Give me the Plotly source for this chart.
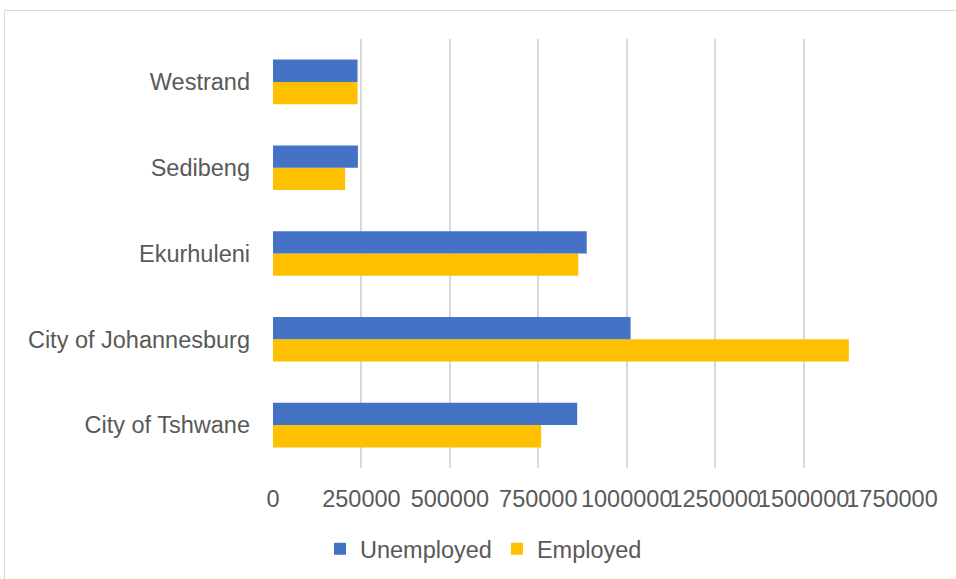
import plotly.graph_objects as go

categories = ["City of Tshwane", "City of Johannesburg", "Ekurhuleni", "Sedibeng", "Westrand"]
unemployed = [860000, 1011000, 887000, 240000, 239000]
employed = [758000, 1628000, 863000, 204000, 239000]
tick_vals = [0, 250000, 500000, 750000, 1000000, 1250000, 1500000, 1750000]
tick_text = ["0", "250000", "500000", "750000", "1000000", "1250000", "1500000", "1750000"]

W, H = 956, 579
L, R, T, B = 273, 64, 39, 111
pw = W - L - R
ph = H - T - B

fig = go.Figure()
fig.add_trace(go.Bar(
    y=categories, x=employed, name="Employed", orientation="h",
    marker=dict(color="#FFC000", line=dict(width=0)), legendrank=2,
))
fig.add_trace(go.Bar(
    y=categories, x=unemployed, name="Unemployed", orientation="h",
    marker=dict(color="#4472C4", line=dict(width=0)), legendrank=1,
))

font = dict(family="Liberation Sans, Arial, sans-serif", size=23.5, color="#595959")

fig.update_layout(
    width=W, height=H,
    margin=dict(l=L, r=R, t=T, b=B, autoexpand=False),
    paper_bgcolor="white", plot_bgcolor="white",
    barmode="group", bargap=0.48, bargroupgap=0,
    font=font,
    xaxis=dict(
        range=[0, 1750000], tickvals=tick_vals, ticktext=tick_text,
        tickangle=0,
        showgrid=True, gridcolor="#d9d9d9", gridwidth=1.5,
        zeroline=False, showline=False, ticks="",
        ticklabelstandoff=14, tickfont=font, fixedrange=True,
    ),
    yaxis=dict(
        type="category", showgrid=False, zeroline=False, showline=False,
        ticks="", ticklabelstandoff=22, tickfont=font, fixedrange=True,
    ),
    legend=dict(
        orientation="h", x=(320 - L) / pw, xanchor="left",
        y=-(549 - (T + ph)) / ph, yanchor="middle",
        font=font, itemwidth=30, tracegroupgap=0,
        bgcolor="rgba(0,0,0,0)",
    ),
    shapes=[dict(
        type="rect", xref="paper", yref="paper",
        x0=(4.5 - L) / pw, x1=(W + 10 - L) / pw,
        y0=-(H + 10 - (T + ph)) / ph, y1=1 + (T - 10.5) / ph,
        line=dict(color="#d9d9d9", width=1), fillcolor="rgba(0,0,0,0)",
        layer="below",
    )],
)

fig.write_html("out.html", config={"displayModeBar": False},
               post_script="document.body.style.margin='0';")
